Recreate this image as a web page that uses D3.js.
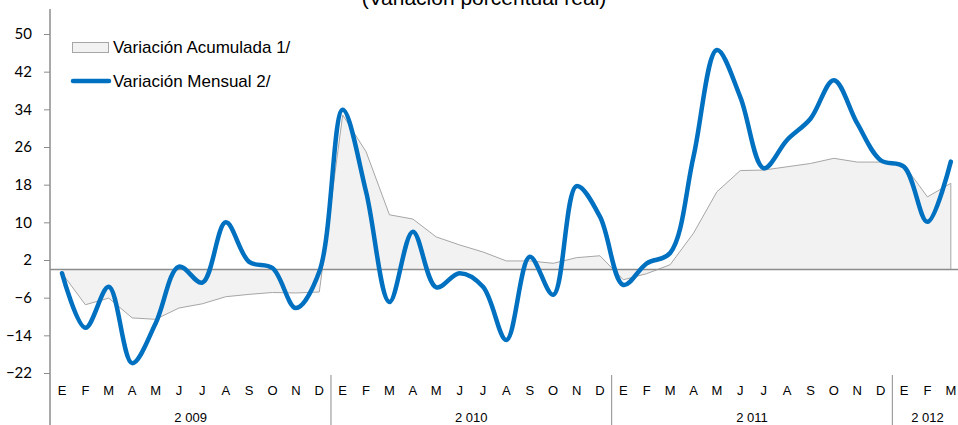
<!DOCTYPE html>
<html>
<head>
<meta charset="utf-8">
<script src="https://cdn.jsdelivr.net/npm/d3@7"></script>
<style>
  body { margin: 0; background: #fff; }
  svg { display: block; }
</style>
</head>
<body>
<div id="chart"></div>
<script>
var months = ["E","F","M","A","M","J","J","A","S","O","N","D",
              "E","F","M","A","M","J","J","A","S","O","N","D",
              "E","F","M","A","M","J","J","A","S","O","N","D",
              "E","F","M"];
var years = [
    { label: "2 009", start: 0, end: 12 },
    { label: "2 010", start: 12, end: 24 },
    { label: "2 011", start: 24, end: 36 },
    { label: "2 012", start: 36, end: 39 }
];
// Variación Mensual 2/
var mensual = [-0.8, -12.4, -3.7, -19.9, -11.5, 0.6, -2.8, 10, 1.6, 0.3, -8.2, -0.5,
               33.9, 16.5, -6.9, 8, -3.8, -0.8, -3.7, -15, 2.7, -5.4, 17.7, 11.2,
               -3.3, 1.3, 3.5, 24, 46.6, 36.6, 21.5, 27.5, 32, 40.2, 31, 23.2,
               21.8, 10.1, 22.9];
// Variación Acumulada 1/
var acumulada = [-0.8, -7.5, -6.1, -10.3, -10.6, -8.2, -7.3, -5.8, -5.3, -4.9, -5.0, -4.8,
                 32.8, 25, 11.6, 10.7, 6.9, 5.2, 3.7, 1.8, 1.8, 1.3, 2.5, 2.9,
                 -2.2, -0.9, 1.0, 7.7, 16.5, 21, 21.1, 21.8, 22.5, 23.6, 22.8, 22.8,
                 22.2, 15.4, 18.3];
var yTicks = [-22, -14, -6, 2, 10, 18, 26, 34, 42, 50];

var W = 958, H = 425;
var svg = d3.select("#chart").append("svg").attr("width", W).attr("height", H);

var x = d3.scaleBand().domain(d3.range(months.length)).range([50.3, 50.3 + 39 * 23.39]);
var y = d3.scaleLinear().domain([-22, 50]).range([373, 34]);
var cx = function(i) { return x(i) + x.bandwidth() / 2; };

// titulo (cortado arriba, como en el original)
svg.append("text").attr("x", 484).attr("y", 5)
    .attr("text-anchor", "middle")
    .style("font-family", "Liberation Sans, Arial, sans-serif")
    .style("font-size", "21px").attr("fill", "#000")
    .text("(Variación porcentual real)");

// area acumulada
var area = d3.area()
    .x(function(d, i) { return cx(i); })
    .y0(y(0))
    .y1(function(d) { return y(d); });
svg.append("path").datum(acumulada)
    .attr("d", area)
    .attr("fill", "#f2f2f2")
    .attr("stroke", "none");
var areaEdge = d3.line().x(function(d) { return d[0]; }).y(function(d) { return d[1]; });
var edgePts = acumulada.map(function(d, i) { return [cx(i), y(d)]; });
edgePts.push([cx(acumulada.length - 1), y(0)]);
svg.append("path").datum(edgePts)
    .attr("d", areaEdge)
    .attr("fill", "none")
    .attr("stroke", "#a6a6a6")
    .attr("stroke-width", 1);

// linea de cero
svg.append("line")
    .attr("x1", 50).attr("x2", W)
    .attr("y1", y(0)).attr("y2", y(0))
    .attr("stroke", "#8c8c8c").attr("stroke-width", 1.5);

// eje y
var yAxis = svg.append("g").attr("transform", "translate(50,0)")
    .call(d3.axisLeft(y).tickValues(yTicks).tickSize(6).tickPadding(12));
yAxis.select(".domain").remove();
yAxis.selectAll(".tick line").attr("stroke", "#8c8c8c");
yAxis.selectAll(".tick text")
    .style("font-family", "Lato, 'Open Sans', sans-serif")
    .style("font-size", "15px").attr("fill", "#000");
svg.append("line").attr("x1", 50).attr("x2", 50).attr("y1", 9).attr("y2", H)
    .attr("stroke", "#8c8c8c").attr("stroke-width", 1.5);

// separadores de año
years.forEach(function(yr) {
    if (yr.start > 0) {
        svg.append("line")
            .attr("x1", x(yr.start)).attr("x2", x(yr.start))
            .attr("y1", 375).attr("y2", H)
            .attr("stroke", "#8c8c8c").attr("stroke-width", 1);
    }
    var xm = (x(yr.start) + x(yr.end - 1) + x.bandwidth()) / 2;
    svg.append("text").attr("x", xm).attr("y", 422)
        .attr("text-anchor", "middle")
        .style("font-family", "Liberation Sans, Arial, sans-serif")
        .style("font-size", "13px").attr("fill", "#000")
        .text(yr.label);
});

// meses
svg.append("g").selectAll("text").data(months).enter().append("text")
    .attr("x", function(d, i) { return cx(i); })
    .attr("y", 395)
    .attr("text-anchor", "middle")
    .style("font-family", "Liberation Sans, Arial, sans-serif")
    .style("font-size", "13px").attr("fill", "#000")
    .text(function(d) { return d; });

// linea mensual
var line = d3.line()
    .x(function(d, i) { return cx(i); })
    .y(function(d) { return y(d); })
    .curve(d3.curveCatmullRom.alpha(0.5));
svg.append("path").datum(mensual)
    .attr("d", line)
    .attr("fill", "none")
    .attr("stroke", "#0070c0")
    .attr("stroke-width", 4.5)
    .attr("stroke-linecap", "round")
    .attr("stroke-linejoin", "round");

// leyenda
var leg = svg.append("g");
leg.append("rect").attr("x", 72.5).attr("y", 42.5).attr("width", 36).attr("height", 10)
    .attr("fill", "#f2f2f2").attr("stroke", "#a6a6a6");
leg.append("text").attr("x", 113).attr("y", 53)
    .style("font-family", "Liberation Sans, Arial, sans-serif")
    .style("font-size", "17px").attr("fill", "#000")
    .text("Variación Acumulada 1/");
leg.append("line").attr("x1", 73).attr("x2", 109).attr("y1", 81).attr("y2", 81)
    .attr("stroke", "#0070c0").attr("stroke-width", 4.5).attr("stroke-linecap", "round");
leg.append("text").attr("x", 113).attr("y", 87)
    .style("font-family", "Liberation Sans, Arial, sans-serif")
    .style("font-size", "17px").attr("fill", "#000")
    .text("Variación Mensual 2/");
</script>
</body>
</html>
